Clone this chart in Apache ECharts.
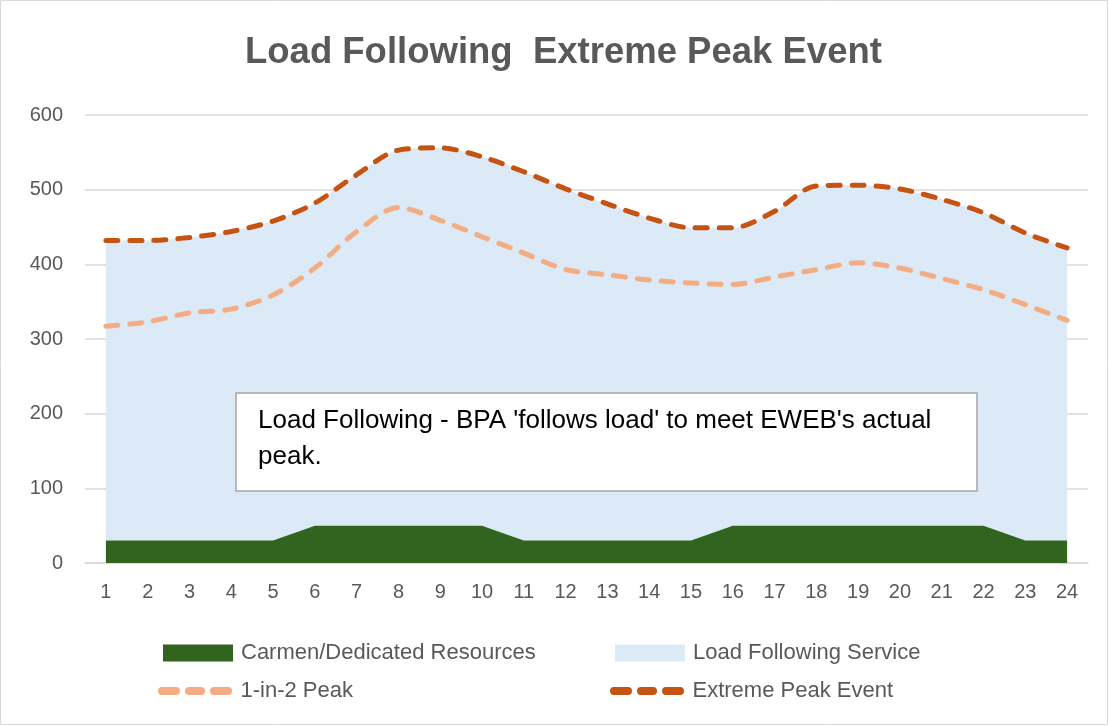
<!DOCTYPE html>
<html>
<head>
<meta charset="utf-8">
<script src="https://cdn.jsdelivr.net/npm/echarts@6/dist/echarts.min.js"></script>
<style>
  html, body { margin: 0; padding: 0; background: #fff; }
  #chart { width: 1109px; height: 726px; }
</style>
</head>
<body>
<div id="chart"></div>
<script>
// hours of the day
const hours = ['1','2','3','4','5','6','7','8','9','10','11','12','13','14','15','16','17','18','19','20','21','22','23','24'];

// dedicated resources (bottom green area)
const carmen = [30,30,30,30,30,50,50,50,50,50,30,30,30,30,30,50,50,50,50,50,50,50,30,30];

// load following service, stacked on top of carmen
const loadFollowing = [402,402,406,414,428,432,470,503,506,494,494,471,451,432,419,399,421,455,456,451,437,419,412,392];

// 1-in-2 peak (light dashed)
const peak1in2 = [317,323,335,340,359,395,444,476,459,437,415,393,386,379,375,373,383,393,402,395,381,366,346,325];

// extreme peak event (dark dashed)
const extremePeak = [432,432,436,444,458,482,520,553,556,544,524,501,481,462,449,449,471,505,506,501,487,469,442,422];

const yTicks = [0, 100, 200, 300, 400, 500, 600];

const GREEN = '#30641f';
const BLUE = '#dce9f6';
const LIGHT = '#f3ac83';
const DARK = '#c55311';
const GRAY = '#595959';
const FONT = '"Liberation Sans", Arial, sans-serif';

// three rounded dashes for the line legend entries
const DASH_ICON = 'path://M4,0H18A4,4 0 0 1 18,8H4A4,4 0 0 1 4,0Z M31,0H43A4,4 0 0 1 43,8H31A4,4 0 0 1 31,0Z M56,0H70A4,4 0 0 1 70,8H56A4,4 0 0 1 56,0Z';

function legendBox(name, left, top, icon, w, h) {
  return {
    left: left,
    top: top,
    padding: 0,
    itemWidth: w,
    itemHeight: h,
    itemGap: 0,
    icon: icon,
    data: [name],
    textStyle: { color: GRAY, fontSize: 22, fontFamily: FONT, padding: [0, 0, 0, 3] }
  };
}

const chart = echarts.init(document.getElementById('chart'));

chart.setOption({
  backgroundColor: '#fff',
  animation: false,
  title: {
    text: 'Load Following  Extreme Peak Event',
    left: 245,
    top: 34,
    padding: 0,
    textStyle: { color: GRAY, fontSize: 36.5, fontWeight: 'bold', fontFamily: FONT }
  },
  grid: { left: 85, right: 21, top: 115, bottom: 163 },
  legend: [
    legendBox('Carmen/Dedicated Resources', 163, 642, 'rect', 70, 17),
    legendBox('Load Following Service', 615, 642, 'rect', 70, 17),
    legendBox('1-in-2 Peak', 158, 680, DASH_ICON, 75, 8),
    legendBox('Extreme Peak Event', 610, 680, DASH_ICON, 75, 8)
  ],
  xAxis: {
    type: 'category',
    data: hours,
    boundaryGap: true,
    axisLine: { lineStyle: { color: '#d9d9d9', width: 1.5 } },
    axisTick: { show: false },
    axisLabel: { color: GRAY, fontSize: 20, fontFamily: FONT, margin: 19 }
  },
  yAxis: {
    type: 'value',
    min: yTicks[0],
    max: yTicks[yTicks.length - 1],
    interval: 100,
    axisLine: { show: false },
    axisTick: { show: false },
    axisLabel: { color: GRAY, fontSize: 20, fontFamily: FONT, margin: 22 },
    splitLine: { lineStyle: { color: '#d9d9d9', width: 1.5 } }
  },
  series: [
    {
      name: 'Carmen/Dedicated Resources',
      type: 'line',
      stack: 'load',
      data: carmen,
      symbol: 'none',
      lineStyle: { width: 0 },
      itemStyle: { color: GREEN },
      areaStyle: { color: GREEN, opacity: 1 },
      z: 3
    },
    {
      name: 'Load Following Service',
      type: 'line',
      stack: 'load',
      data: loadFollowing,
      smooth: 0.3,
      symbol: 'none',
      lineStyle: { width: 0 },
      itemStyle: { color: BLUE },
      areaStyle: { color: BLUE, opacity: 1 },
      z: 2
    },
    {
      name: '1-in-2 Peak',
      type: 'line',
      data: peak1in2,
      smooth: 0.3,
      symbol: 'none',
      itemStyle: { color: LIGHT },
      lineStyle: { color: LIGHT, width: 5, type: [12, 12], cap: 'round' },
      z: 4
    },
    {
      name: 'Extreme Peak Event',
      type: 'line',
      data: extremePeak,
      smooth: 0.3,
      symbol: 'none',
      itemStyle: { color: DARK },
      lineStyle: { color: DARK, width: 5, type: [12, 12], cap: 'round' },
      z: 5
    }
  ],
  graphic: {
    elements: [
      {
        type: 'rect',
        shape: { x: 0.5, y: 0.5, width: 1107, height: 724 },
        style: { fill: 'none', stroke: '#d9d9d9', lineWidth: 1 },
        z: 0
      },
      {
        type: 'rect',
        shape: { x: 236, y: 393, width: 741, height: 98 },
        style: { fill: '#fff', stroke: '#a6a6a6', lineWidth: 1.5 },
        z: 100
      },
      {
        type: 'text',
        x: 258,
        y: 403,
        style: {
          text: "Load Following - BPA 'follows load' to meet EWEB's actual\npeak.",
          fill: '#000',
          font: '26px ' + FONT,
          lineHeight: 36
        },
        z: 101
      }
    ]
  }
});
</script>
</body>
</html>
